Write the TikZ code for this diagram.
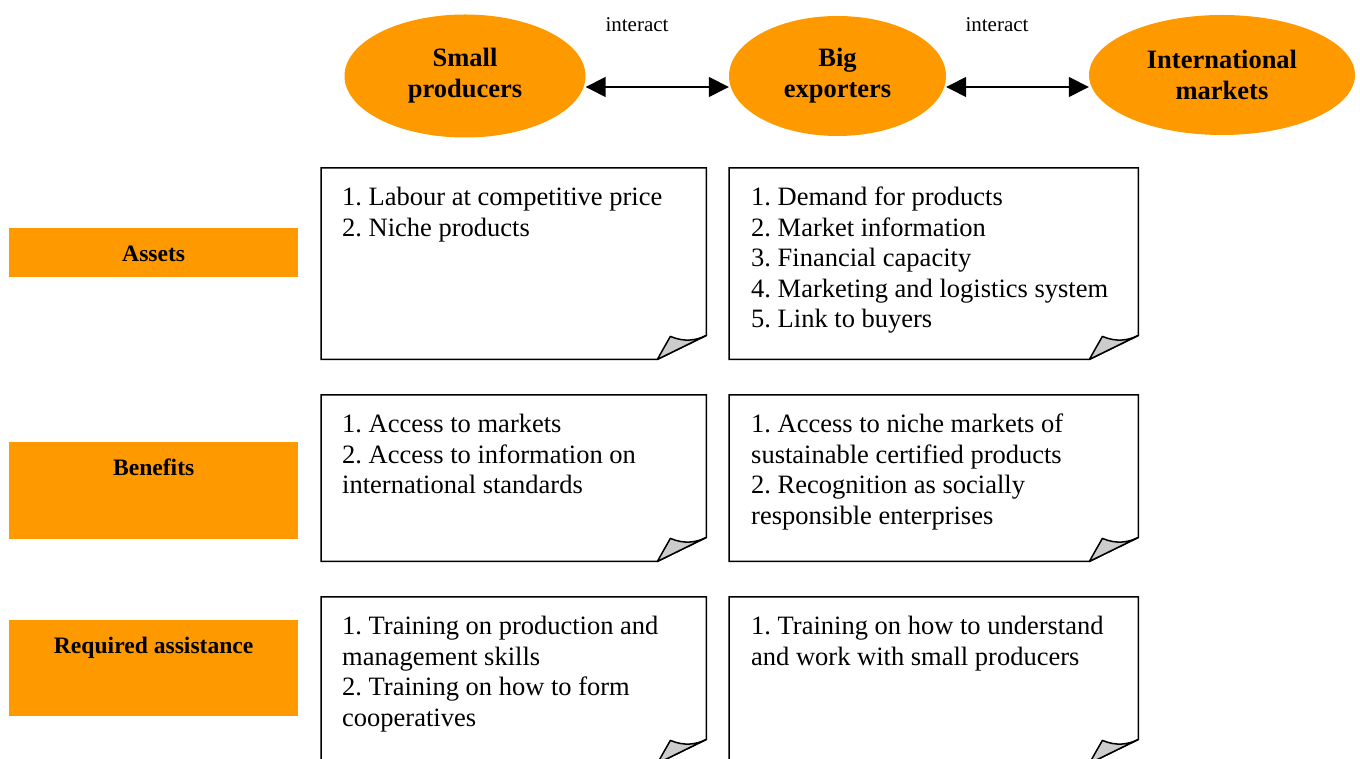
\documentclass[tikz,border=0pt]{standalone}
\usepackage{fontspec}
\setmainfont{Liberation Serif}
\usetikzlibrary{arrows.meta,positioning,shapes.geometric}

\definecolor{tagorange}{RGB}{255,153,0}
\definecolor{foldgray}{RGB}{204,204,204}

% page outline with a dog-eared bottom right corner
\newcommand{\dogear}[1]{%
  \draw[line width=1.5pt] (#1.north west) -- (#1.north east)
    -- ([yshift=24pt]#1.south east) -- ([xshift=-49pt]#1.south east)
    -- (#1.south west) -- cycle;
  \filldraw[line width=1.5pt, fill=foldgray, line join=round]
    ([xshift=-49pt]#1.south east)
    .. controls ([xshift=-44pt,yshift=9pt]#1.south east) .. ([xshift=-36pt,yshift=23pt]#1.south east)
    .. controls ([xshift=-22pt,yshift=17pt]#1.south east) and ([xshift=-10pt,yshift=19pt]#1.south east) .. ([yshift=24pt]#1.south east)
    -- cycle;}

\begin{document}
\frenchspacing
\begin{tikzpicture}[x=1pt, y=1pt, font=\fontsize{26.5}{30.5}\selectfont,
actor/.style={ellipse, fill=tagorange, inner sep=0pt, align=center, font=\fontsize{26.5}{31}\selectfont\bfseries},
tag/.style={fill=tagorange, anchor=north west, minimum width=289pt, inner sep=0pt, text height=33pt, font=\fontsize{23.6}{28}\selectfont\bfseries},
page/.style={anchor=north west, inner sep=0pt},
pagetext/.style={anchor=north west, inner sep=0pt, align=left},
link/.style={{Triangle[length=20pt,width=20pt]}-{Triangle[length=20pt,width=20pt]}, line width=1.5pt},
small/.style={font=\fontsize{21}{25}\selectfont}]
\useasboundingbox (0,0) rectangle (1360,758);

% actors along the chain
\node[actor, minimum width=241pt, minimum height=123pt] (producers) at (465,682) {Small\\producers};
\node[actor, minimum width=217pt, minimum height=120pt] (exporters) at (837.5,682) {Big\\exporters};
\node[actor, minimum width=266pt, minimum height=120pt] (markets) at (1222,683) {International\\markets};
\draw[link] ([yshift=-11pt]producers.east) -- ([yshift=-11pt]exporters.west);
\draw[link] ([yshift=-11pt]exporters.east) -- ([yshift=-12pt]markets.west);
\node[small] (interactA) at (637,733) {interact};
\node[small] (interactB) at (997,733) {interact};

% row headings
\node[tag, text depth=16pt] (assets) at (9,530) {Assets};
\node[tag, text depth=64pt] (benefits) at (9,316) {Benefits};
\node[tag, text depth=63pt] (assist) at (9,138) {Required assistance};

% pages for small producers
\node[page, minimum width=385pt, minimum height=191pt] (pAssets) at (321,590) {};
\node[page, minimum width=385pt, minimum height=166pt] (pBenefits) at (321,363) {};
\node[page, minimum width=385pt, minimum height=166pt] (pAssist) at (321,161) {};
% pages for big exporters
\node[page, minimum width=409pt, minimum height=191pt] (eAssets) at (729,590) {};
\node[page, minimum width=409pt, minimum height=166pt] (eBenefits) at (729,363) {};
\node[page, minimum width=409pt, minimum height=166pt] (eAssist) at (729,161) {};

\dogear{pAssets}
\dogear{pBenefits}
\dogear{pAssist}
\dogear{eAssets}
\dogear{eBenefits}
\dogear{eAssist}

\node[pagetext] (pAssetsTxt) at ([xshift=21pt,yshift=-19pt]pAssets.north west)
  {1. Labour at competitive price\\2. Niche products};
\node[pagetext] (pBenefitsTxt) at ([xshift=21pt,yshift=-19pt]pBenefits.north west)
  {1. Access to markets\\2. Access to information on\\international standards};
\node[pagetext] (pAssistTxt) at ([xshift=21pt,yshift=-19pt]pAssist.north west)
  {1. Training on production and\\management skills\\2. Training on how to form\\cooperatives};
\node[pagetext] (eAssetsTxt) at ([xshift=22pt,yshift=-19pt]eAssets.north west)
  {1. Demand for products\\2. Market information\\3. Financial capacity\\4. Marketing and logistics system\\5. Link to buyers};
\node[pagetext] (eBenefitsTxt) at ([xshift=22pt,yshift=-19pt]eBenefits.north west)
  {1. Access to niche markets of\\sustainable certified products\\2. Recognition as socially\\responsible enterprises};
\node[pagetext] (eAssistTxt) at ([xshift=22pt,yshift=-19pt]eAssist.north west)
  {1. Training on how to understand\\and work with small producers};
\end{tikzpicture}
\end{document}
